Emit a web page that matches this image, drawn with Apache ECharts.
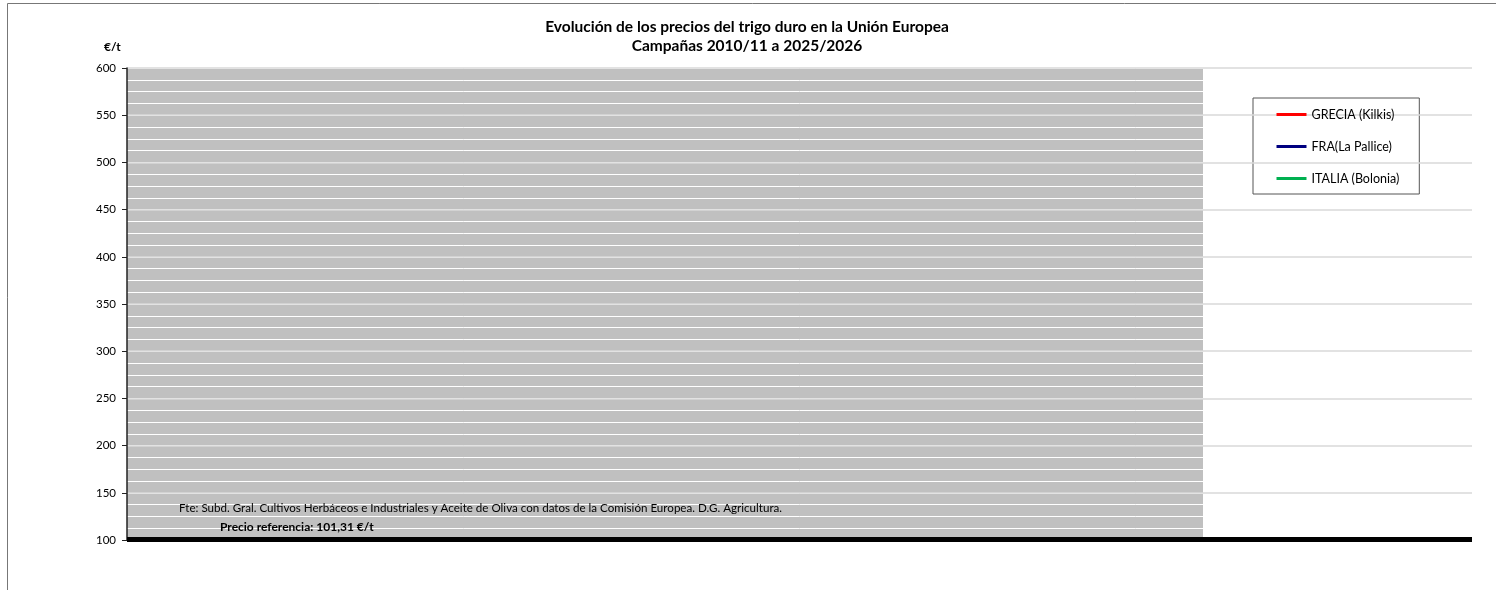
<!DOCTYPE html>
<html>
<head>
<meta charset="utf-8">
<script src="https://cdn.jsdelivr.net/npm/echarts@6/dist/echarts.min.js"></script>
<style>
  html, body { margin: 0; padding: 0; background: #fff; }
  #chart { width: 1496px; height: 590px; }
</style>
</head>
<body>
<div id="chart"></div>
<script>
// campañas en el eje X (sin etiquetas en el gráfico original)
const campanas = ['2010/11', '2011/12', '2012/13', '2013/14', '2014/15', '2015/16', '2016/17', '2017/18',
  '2018/19', '2019/20', '2020/21', '2021/22', '2022/23', '2023/24', '2024/25', '2025/26',
  '2026/27', '2027/28', '2028/29', '2029/30']
// fondo gris: campañas 2010/11 a 2025/26
const fondoCampanas = [600, 600, 600, 600, 600, 600, 600, 600, 600, 600, 600, 600, 600, 600, 600, 600,
  null, null, null, null]
// series de precios (no aparecen líneas en la imagen)
const grecia = []
const francia = []
const italia = []
const precioReferencia = 101.31
const yTicks = { min: 100, max: 600, interval: 50 }

const font = 'Lato, "Liberation Sans", sans-serif'

// un único bloque gris desde la primera hasta la última campaña con valor
let primera = fondoCampanas.findIndex(v => v != null)
let ultima = fondoCampanas.length - 1 - [...fondoCampanas].reverse().findIndex(v => v != null)
let fondoData = [[primera, ultima, fondoCampanas[primera]]]

let chart = echarts.init(document.getElementById('chart'))
let option = {
  animation: false,
  textStyle: { fontFamily: font },
  title: [
    {
      text: 'Evolución de los precios del trigo duro en la Unión Europea\nCampañas 2010/11 a 2025/2026',
      left: 742,
      top: 12,
      textAlign: 'center',
      textStyle: { fontSize: 15.5, fontWeight: 'bold', color: '#000', lineHeight: 19, fontFamily: font }
    }
  ],
  graphic: [
    // marco exterior
    { type: 'rect', shape: { x: 7.5, y: 3.5, width: 1600, height: 700 }, style: { fill: 'none', stroke: '#777', lineWidth: 1 }, silent: true },
    { type: 'text', left: 104, top: 41, style: { text: '€/t', font: 'bold 12px ' + font, fill: '#000' } },
    { type: 'text', left: 179, top: 502, style: { text: 'Fte: Subd. Gral. Cultivos Herbáceos e Industriales y Aceite de Oliva con datos de la Comisión Europea. D.G. Agricultura.', font: '11.6px ' + font, fill: '#000' }, z: 10 },
    { type: 'text', left: 220, top: 521, style: { text: 'Precio referencia: 101,31 €/t', font: 'bold 12px ' + font, fill: '#000' }, z: 10 }
  ],
  legend: {
    data: ['GRECIA (Kilkis)', 'FRA(La Pallice)', 'ITALIA (Bolonia)'],
    orient: 'vertical',
    left: 1253,
    top: 98,
    padding: [10, 20, 9, 22],
    itemGap: 19,
    itemWidth: 30,
    itemHeight: 15,
    itemStyle: { opacity: 0 },
    lineStyle: { width: 3 },
    borderColor: '#555',
    borderWidth: 1,
    backgroundColor: '#fff',
    textStyle: { fontSize: 12.5, color: '#000', fontFamily: font, padding: 0 }
  },
  grid: { left: 127, right: 24, top: 68, bottom: 50 },
  xAxis: {
    type: 'category',
    data: campanas,
    axisLine: { show: false },
    axisTick: { show: false },
    axisLabel: { show: false },
    splitLine: { show: false }
  },
  yAxis: [
    {
      type: 'value',
      min: yTicks.min,
      max: yTicks.max,
      interval: yTicks.interval,
      z: 4,
      axisLine: { show: true, lineStyle: { color: '#222', width: 1.5 } },
      axisTick: { show: true, length: 5, inside: false, lineStyle: { color: '#222' } },
      axisLabel: { fontSize: 11.5, color: '#000', margin: 11, fontFamily: font },
      splitLine: { show: true, lineStyle: { color: '#d9d9d9', width: 1.5 } }
    },
    {
      // líneas blancas finas sobre el fondo gris
      type: 'value',
      min: yTicks.min,
      max: yTicks.max,
      interval: 12.5,
      z: 3,
      axisLine: { show: false },
      axisTick: { show: false },
      axisLabel: { show: false },
      splitLine: { show: true, lineStyle: { color: '#fff', width: 1 } }
    }
  ],
  series: [
    {
      name: 'Campañas',
      type: 'custom',
      data: fondoData,
      silent: true,
      z: 2,
      renderItem (params, api) {
        let bw = api.size([1, 0])[0]
        let p0 = api.coord([api.value(0), api.value(2)])
        let p1 = api.coord([api.value(1), yTicks.min])
        return {
          type: 'rect',
          shape: { x: p0[0] - bw / 2, y: p0[1], width: p1[0] - p0[0] + bw, height: p1[1] - p0[1] },
          style: { fill: '#c0c0c0' }
        }
      }
    },
    { name: 'GRECIA (Kilkis)', type: 'line', data: grecia, symbol: 'none', lineStyle: { color: '#ff0000', width: 3 }, itemStyle: { color: '#ff0000' }, z: 6 },
    { name: 'FRA(La Pallice)', type: 'line', data: francia, symbol: 'none', lineStyle: { color: '#000080', width: 3 }, itemStyle: { color: '#000080' }, z: 6 },
    { name: 'ITALIA (Bolonia)', type: 'line', data: italia, symbol: 'none', lineStyle: { color: '#00b050', width: 3 }, itemStyle: { color: '#00b050' }, z: 6 },
    {
      name: 'Precio referencia',
      type: 'line',
      data: [],
      z: 7,
      markLine: {
        silent: true,
        symbol: 'none',
        label: { show: false },
        lineStyle: { color: '#000', width: 5, type: 'solid' },
        data: [{ yAxis: precioReferencia }]
      }
    }
  ]
}
chart.setOption(option)
</script>
</body>
</html>
